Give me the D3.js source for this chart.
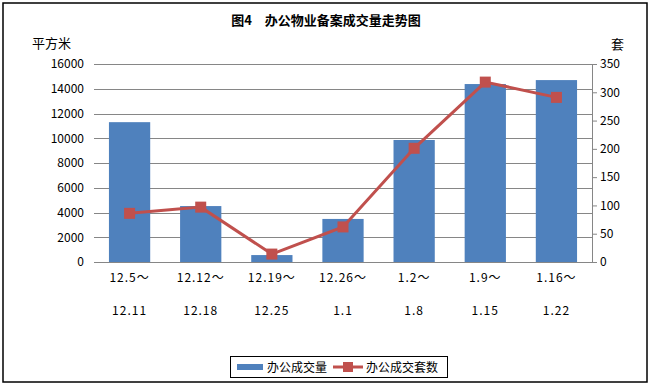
<!DOCTYPE html>
<html><head><meta charset="utf-8">
<script src="https://cdn.jsdelivr.net/npm/d3@7"></script>
<style>
html,body{margin:0;padding:0;background:#fff;}
svg text{font-family:"Noto Sans CJK SC",sans-serif;}
</style></head>
<body>
<svg id="c" width="652" height="386"></svg>
<script>
const catLine1 = ["12.5～","12.12～","12.19～","12.26～","1.2～","1.9～","1.16～"];
const catLine2 = ["12.11","12.18","12.25","1.1","1.8","1.15","1.22"];
const areaValues = [11300, 4520, 560, 3480, 9860, 14380, 14700];
const unitValues = [86, 97, 14, 62, 201, 318, 291];
const leftTicks = [0,2000,4000,6000,8000,10000,12000,14000,16000];
const rightTicks = [0,50,100,150,200,250,300,350];
const title = "图4　办公物业备案成交量走势图";
const seriesNames = ["办公成交量","办公成交套数"];

const svg = d3.select("#c");
const L = 94, R = 592, T = 64, B = 262;
const blue = "#4f81bd", red = "#c0504d", grid = "#868686";

svg.append("rect").attr("x",3).attr("y",3).attr("width",644).attr("height",379)
  .attr("fill","#fff").attr("stroke","#000").attr("stroke-width",1.5);

const x = d3.scaleBand().domain(d3.range(catLine1.length)).range([L,R]).paddingInner(0.42).paddingOuter(0.21);
const yL = d3.scaleLinear().domain([0,16000]).range([B,T]);
const yR = d3.scaleLinear().domain([0,350]).range([B,T]);

// gridlines
svg.append("g").selectAll("line").data(leftTicks).join("line")
  .attr("x1",L).attr("x2",R).attr("y1",d=>Math.round(yL(d))+0.5).attr("y2",d=>Math.round(yL(d))+0.5)
  .attr("stroke",grid).attr("stroke-width",1);

// left axis labels
const gl = svg.append("g").attr("transform",`translate(${L},0)`)
  .call(d3.axisLeft(yL).tickValues(leftTicks).tickSize(0).tickPadding(10).tickFormat(d3.format("d")));
gl.select(".domain").remove();
gl.selectAll("text").attr("font-size",12).attr("fill","#000");

// right axis
const gr = svg.append("g").attr("transform",`translate(${R},0)`)
  .call(d3.axisRight(yR).tickValues(rightTicks).tickSize(5).tickPadding(3));
gr.select(".domain").attr("stroke",grid);
gr.selectAll(".tick line").attr("stroke",grid);
gr.selectAll("text").attr("font-size",12).attr("fill","#000");

// bars
svg.append("g").selectAll("rect").data(areaValues).join("rect")
  .attr("x",(d,i)=>x(i)).attr("width",x.bandwidth())
  .attr("y",d=>yL(d)).attr("height",d=>B-yL(d)).attr("fill",blue);

// line
const cx = i => x(i)+x.bandwidth()/2;
svg.append("path").datum(unitValues)
  .attr("d",d3.line().x((d,i)=>cx(i)).y(d=>yR(d)))
  .attr("fill","none").attr("stroke",red).attr("stroke-width",3);
svg.append("g").selectAll("rect").data(unitValues).join("rect")
  .attr("x",(d,i)=>cx(i)-5.5).attr("y",d=>yR(d)-5.5).attr("width",11).attr("height",11)
  .attr("fill",red);

// category labels
const gx = svg.append("g");
catLine1.forEach((c,i)=>{
  gx.append("text").attr("x",cx(i)).attr("y",282).attr("text-anchor","middle").attr("font-size",12)
    .attr("letter-spacing",1).text(c);
  gx.append("text").attr("x",cx(i)).attr("y",315).attr("text-anchor","middle").attr("font-size",12)
    .attr("letter-spacing",1).text(catLine2[i]);
});

// title and units
svg.append("text").attr("x",326).attr("y",25).attr("text-anchor","middle")
  .attr("font-size",13).attr("font-weight","bold").text(title);
svg.append("text").attr("x",32).attr("y",48).attr("font-size",13).text("平方米");
svg.append("text").attr("x",611).attr("y",49).attr("font-size",13).text("套");

// legend
const lg = svg.append("g");
lg.append("rect").attr("x",230.5).attr("y",356.5).attr("width",217).attr("height",21)
  .attr("fill","#fff").attr("stroke","#000").attr("stroke-width",1);
lg.append("rect").attr("x",237).attr("y",364).attr("width",26).attr("height",6).attr("fill",blue);
lg.append("text").attr("x",267).attr("y",371.5).attr("font-size",12).text(seriesNames[0]);
lg.append("line").attr("x1",333).attr("x2",363).attr("y1",367).attr("y2",367).attr("stroke",red).attr("stroke-width",3);
lg.append("rect").attr("x",343).attr("y",362).attr("width",10).attr("height",10).attr("fill",red);
lg.append("text").attr("x",366).attr("y",371.5).attr("font-size",12).text(seriesNames[1]);
</script>
</body></html>
